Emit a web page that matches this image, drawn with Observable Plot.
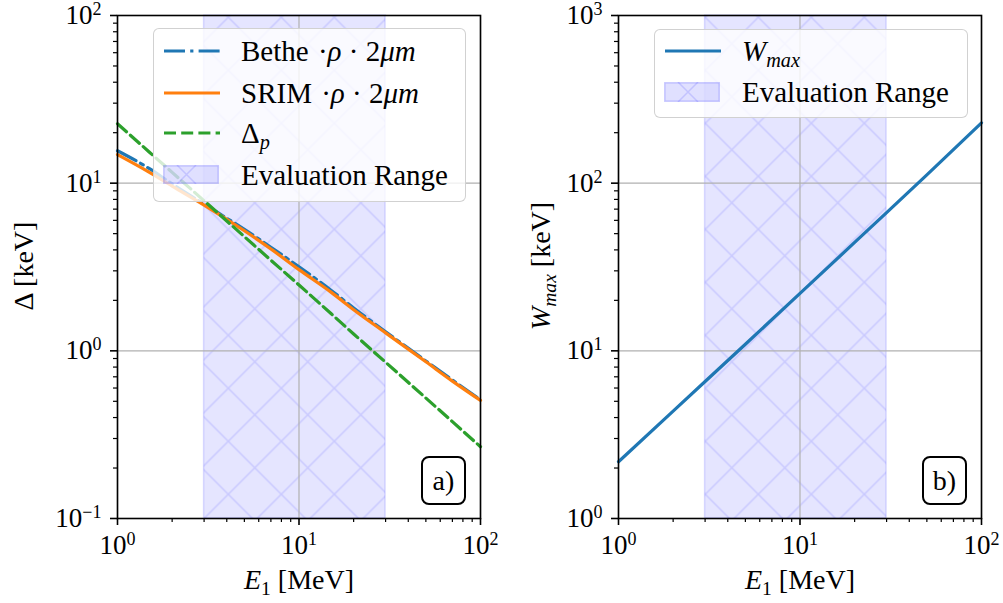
<!DOCTYPE html>
<html>
<head>
<meta charset="utf-8">
<script src="https://cdn.jsdelivr.net/npm/d3@7"></script>
<script src="https://cdn.jsdelivr.net/npm/@observablehq/plot@0.6"></script>
<style>
  html, body { margin: 0; padding: 0; background: #fff; }
  #chart { position: relative; width: 1003px; height: 603px; background: #fff; font-family: 'Liberation Serif', serif; color: #000; overflow: hidden; }
  #chart svg.panel { position: absolute; top: 0; }
  #chart svg.panel text { font-family: 'Liberation Serif', serif !important; }
  .legend { position: absolute; box-sizing: border-box; border: 1.5px solid rgba(204,204,204,0.9); border-radius: 6px; background: rgba(255,255,255,0.8); }
  .legend .txt { position: absolute; font-size: 29px; line-height: normal; transform: translateY(-50%); white-space: nowrap; }
  .legend svg { position: absolute; }
  .tag { position: absolute; box-sizing: border-box; border: 2px solid #000; border-radius: 8px; background: #fff; font-size: 28px; display: flex; align-items: center; justify-content: center; }
  .xlab { position: absolute; font-size: 28px; transform: translate(-50%, -50%); white-space: nowrap; }
  .ylab { position: absolute; font-size: 28px; transform: translate(-50%, -50%) rotate(-90deg); white-space: nowrap; }
  .sub { font-size: 0.7em; position: relative; top: 0.3em; }
  i { font-style: italic; }
</style>
</head>
<body>
<div id="chart"></div>
<script>
// ---------------- data ----------------
const energy = [1, 1.5, 2, 3, 5, 7, 10, 15, 20, 30, 50, 70, 100];           // E1 [MeV]
const betheVals = [15.6, 12.2, 9.9, 7.5, 5.3, 4.15, 3.17, 2.3, 1.8, 1.3, 0.87, 0.67, 0.51]; // keV
const srimVals  = [14.8, 11.6, 9.6, 7.4, 5.2, 4.05, 3.05, 2.24, 1.76, 1.28, 0.86, 0.66, 0.506];
const deltaPVals = [22.6, 15.3, 11.6, 7.85, 4.8, 3.47, 2.47, 1.67, 1.26, 0.855, 0.523, 0.378, 0.268];
const wEnergy = [1, 2, 3, 5, 10, 20, 30, 50, 100];
const wmaxVals = [2.18, 4.37, 6.56, 10.95, 22.0, 44.3, 66.7, 112, 229];
const evalRange = [3, 30];
const xMajorTicks = [1, 10, 100];
const yMajorA = [0.1, 1, 10, 100];
const yMajorB = [1, 10, 100, 1000];
const minorMult = [2, 3, 4, 5, 6, 7, 8, 9];

const colors = { bethe: "#1f77b4", srim: "#ff7f0e", deltaP: "#2ca02c", wmax: "#1f77b4" };
const FONT = "'Liberation Serif', serif";

// ---------------- helpers ----------------
const NS = "http://www.w3.org/2000/svg";
const minorsFor = (majors) => majors.slice(0, -1).flatMap(m => minorMult.map(k => +(m * k).toPrecision(3)));
const supFmt = d => "10^" + Math.round(Math.log10(d)).toString().replace("-", "\u2212");

function seriesRows(xs, ys, name) { return xs.map((x, i) => ({ E: x, v: ys[i], s: name })); }

function addPattern(svg, id, ox, oy) {
  const defs = document.createElementNS(NS, "defs");
  defs.innerHTML = `<pattern id="${id}" patternUnits="userSpaceOnUse" width="53" height="53" patternTransform="translate(${ox},${oy})">
      <path d="M0,0L53,53M53,0L0,53M-1,52L1,54M52,-1L54,1" stroke="blue" stroke-opacity="0.12" stroke-width="1.5" fill="none"/>
    </pattern>`;
  svg.insertBefore(defs, svg.firstChild);
}

function fixSuperscripts(svg) {
  svg.querySelectorAll("text").forEach(t => {
    t.setAttribute("font-family", FONT);
    t.style.fontFamily = FONT;
    const m = (t.textContent || "").match(/^10\^(.+)$/);
    if (m) {
      t.textContent = "10";
      const ts = document.createElementNS(NS, "tspan");
      ts.setAttribute("dy", "-9");
      ts.setAttribute("font-size", "18");
      ts.textContent = m[1];
      t.appendChild(ts);
    }
  });
}

function panel({ yDomain, yMajor, lines, patId }) {
  const span = [{ lo: evalRange[0], hi: evalRange[1] }];
  return Plot.plot({
    width: 501, height: 603,
    marginLeft: 117, marginRight: 21, marginTop: 15, marginBottom: 85,
    style: { fontFamily: FONT, fontSize: "27px", background: "transparent", overflow: "visible", color: "#000" },
    x: { type: "log", domain: [1, 100] },
    y: { type: "log", domain: yDomain },
    marks: [
      Plot.rect(span, { x1: "lo", x2: "hi", fill: "blue", fillOpacity: 0.1 }),
      Plot.rect(span, { x1: "lo", x2: "hi", fill: `url(#${patId})`, stroke: "blue", strokeOpacity: 0.13, strokeWidth: 1.5 }),
      Plot.gridX({ ticks: xMajorTicks, stroke: "#b0b0b0", strokeOpacity: 1, strokeWidth: 1.2 }),
      Plot.gridY({ ticks: yMajor, stroke: "#b0b0b0", strokeOpacity: 1, strokeWidth: 1.2 }),
      ...lines,
      Plot.axisX({ ticks: minorsFor(xMajorTicks), tickSize: 4, tickFormat: () => "", label: null, strokeWidth: 1.2 }),
      Plot.axisX({ ticks: xMajorTicks, tickSize: 7, tickPadding: 9, tickFormat: supFmt, label: null, strokeWidth: 1.6 }),
      Plot.axisY({ ticks: minorsFor(yMajor), tickSize: 4, tickFormat: () => "", label: null, strokeWidth: 1.2 }),
      Plot.axisY({ ticks: yMajor, tickSize: 7, tickPadding: 9, tickFormat: supFmt, label: null, strokeWidth: 1.6 }),
      Plot.frame({ stroke: "#000", strokeWidth: 1.6 })
    ]
  });
}

// ---------------- panels ----------------
const svgA = panel({
  yDomain: [0.1, 100], yMajor: yMajorA, patId: "hatchA",
  lines: [
    Plot.line(seriesRows(energy, betheVals, "Bethe"), { x: "E", y: "v", stroke: colors.bethe, strokeWidth: 3.2, strokeDasharray: "21,5.2,3.2,5.2", curve: "monotone-x" }),
    Plot.line(seriesRows(energy, srimVals, "SRIM"), { x: "E", y: "v", stroke: colors.srim, strokeWidth: 3.2, curve: "monotone-x" }),
    Plot.line(seriesRows(energy, deltaPVals, "Delta_p"), { x: "E", y: "v", stroke: colors.deltaP, strokeWidth: 3.2, strokeDasharray: "12,5.2" })
  ]
});
const svgB = panel({
  yDomain: [1, 1000], yMajor: yMajorB, patId: "hatchB",
  lines: [
    Plot.line(seriesRows(wEnergy, wmaxVals, "Wmax"), { x: "E", y: "v", stroke: colors.wmax, strokeWidth: 3.2 })
  ]
});
[svgA, svgB].forEach(s => { s.classList.add("panel"); fixSuperscripts(s); });
addPattern(svgA, "hatchA", 16.3, 17.3);
addPattern(svgB, "hatchB", 16.3 - 501 + 530, 17.3);
svgA.style.left = "0px";
svgB.style.left = "501px";

const chart = document.getElementById("chart");
chart.appendChild(svgA);
chart.appendChild(svgB);

// ---------------- overlays: legends, labels, tags ----------------
function swatchSVG(w, h) {
  return `<svg width="${w}" height="${h}" style="position:static;display:block">
    <rect x="0.75" y="0.75" width="${w - 1.5}" height="${h - 1.5}" fill="blue" fill-opacity="0.12" stroke="blue" stroke-opacity="0.18" stroke-width="1.5"/>
    <path d="M14,0L${14 + h},${h}M${14 + h},0L14,${h}" stroke="blue" stroke-opacity="0.13" stroke-width="1.5"/>
  </svg>`;
}
function lineSVG(color, dash) {
  return `<svg width="58" height="8" style="display:block"><line x1="1" y1="4" x2="57" y2="4" stroke="${color}" stroke-width="3.2" ${dash ? `stroke-dasharray="${dash}"` : ""}/></svg>`;
}

const legendA = [
  { handle: lineSVG(colors.bethe, "21,5.2,3.2,5.2"), label: `Bethe <span style="margin-left:2px">·<i>ρ</i> · 2<i>μm</i></span>`, cy: 22 },
  { handle: lineSVG(colors.srim, null), label: `SRIM <span style="margin-left:2px">·<i>ρ</i> · 2<i>μm</i></span>`, cy: 64 },
  { handle: lineSVG(colors.deltaP, "12,5.2"), label: `Δ<i class="sub">p</i>`, cy: 104 },
  { handle: swatchSVG(56, 19), label: `Evaluation Range`, cy: 146, swatch: true }
];
const legendB = [
  { handle: lineSVG(colors.wmax, null), label: `<i>W</i><i class="sub">max</i>`, cy: 21 },
  { handle: swatchSVG(56, 20), label: `Evaluation Range`, cy: 62, swatch: true }
];

function buildLegend(items, left, top, width, height) {
  const d = document.createElement("div");
  d.className = "legend";
  Object.assign(d.style, { left: left + "px", top: top + "px", width: width + "px", height: height + "px" });
  items.forEach(it => {
    const h = document.createElement("div");
    h.style.position = "absolute";
    h.style.left = "9px";
    h.style.top = (it.swatch ? it.cy - 10 : it.cy - 4) + "px";
    h.innerHTML = it.handle;
    d.appendChild(h);
    const t = document.createElement("div");
    t.className = "txt";
    t.style.left = "87px";
    t.style.top = it.cy + "px";
    t.innerHTML = it.label;
    d.appendChild(t);
  });
  chart.appendChild(d);
}
buildLegend(legendA, 153, 28, 313, 174);
buildLegend(legendB, 654, 29, 314, 89);

function addDiv(cls, html, x, y, extra) {
  const d = document.createElement("div");
  d.className = cls;
  d.innerHTML = html;
  d.style.left = x + "px";
  d.style.top = y + "px";
  if (extra) Object.assign(d.style, extra);
  chart.appendChild(d);
  return d;
}
// axis labels
addDiv("xlab", `<i>E</i><span class="sub">1</span> [MeV]`, 299, 580);
addDiv("xlab", `<i>E</i><span class="sub">1</span> [MeV]`, 800, 580);
addDiv("ylab", `Δ [keV]`, 24, 266);
addDiv("ylab", `<i>W</i><i class="sub">max</i> [keV]`, 541, 266);
// panel tags
addDiv("tag", `a)`, 421, 456, { width: "45px", height: "49px" });
addDiv("tag", `b)`, 922, 456, { width: "45px", height: "49px" });
</script>
</body>
</html>
